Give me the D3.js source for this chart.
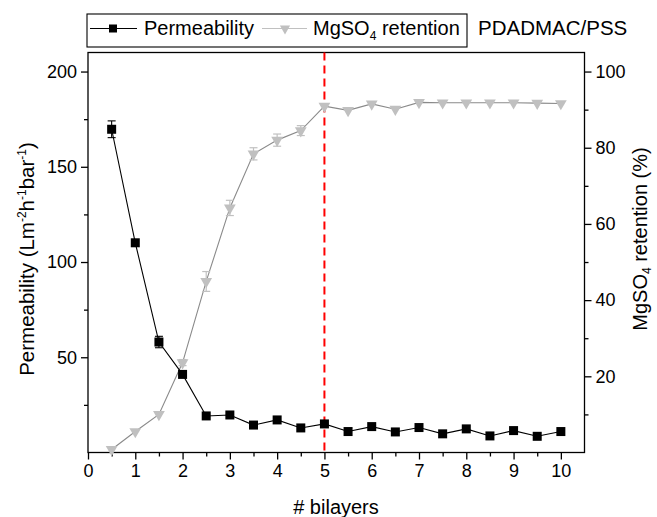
<!DOCTYPE html>
<html><head><meta charset="utf-8">
<script src="https://cdn.jsdelivr.net/npm/d3@7"></script>
<style>body{margin:0;background:#fff}svg{display:block}text{font-family:"Liberation Sans",Arial,sans-serif;fill:#000}</style>
</head><body><svg id="c" width="657" height="517"></svg>
<script>
const bilayers = [0.5,1,1.5,2,2.5,3,3.5,4,4.5,5,5.5,6,6.5,7,7.5,8,8.5,9,9.5,10];
const permeability = [169.7,110.1,58,41,19.2,19.7,14.4,17.1,12.9,15,11,13.6,10.8,13.1,9.8,12.4,8.7,11.5,8.5,11];
const permErr = [4.4,0.8,3,1,0.5,0.5,0.5,0.5,0.5,0.5,0.3,0.3,0.3,0.3,0.3,0.3,0.3,0.3,0.3,0.3];
const retention = [0.8,5.5,10,23.6,44.9,64.2,78.4,82,84.5,90.9,89.8,91.5,90.1,91.9,91.8,91.8,91.8,91.8,91.7,91.6];
const retErr = [0.3,0.3,0.3,0.8,2.6,2,1.6,1.6,1.3,0.5,0.4,0.4,0.4,0.3,0.3,0.3,0.3,0.3,0.3,0.3];
const xTicks = [0,1,2,3,4,5,6,7,8,9,10];
const yLeftTicks = [50,100,150,200];
const yRightTicks = [20,40,60,80,100];
const markerLine = 5;

const svg = d3.select("#c");
const L=88,R=584.5,T=52.5,B=452.5;
const x = d3.scaleLinear().domain([0,10.5]).range([L,R]);
const yL = d3.scaleLinear().domain([0,210]).range([B,T]);
const yR = d3.scaleLinear().domain([0,105]).range([B,T]);

svg.append("rect").attr("x",L).attr("y",T).attr("width",R-L).attr("height",B-T).attr("fill","none").attr("stroke","#000").attr("stroke-width",1.3);

const fmt = d=>d;
const xa = svg.append("g").attr("transform",`translate(0,${B})`)
  .call(d3.axisBottom(x).tickValues(xTicks).tickSize(7).tickPadding(5).tickFormat(fmt));
const xm = svg.append("g").attr("transform",`translate(0,${B})`)
  .call(d3.axisBottom(x).tickValues(d3.range(0.5,10.5,1)).tickSize(4).tickFormat(""));
const yla = svg.append("g").attr("transform",`translate(${L},0)`)
  .call(d3.axisLeft(yL).tickValues(yLeftTicks).tickSize(7).tickPadding(4).tickFormat(fmt));
const ylm = svg.append("g").attr("transform",`translate(${L},0)`)
  .call(d3.axisLeft(yL).tickValues([25,75,125,175]).tickSize(4).tickFormat(""));
const yra = svg.append("g").attr("transform",`translate(${R},0)`)
  .call(d3.axisRight(yR).tickValues(yRightTicks).tickSize(7).tickPadding(4).tickFormat(fmt));
const yrm = svg.append("g").attr("transform",`translate(${R},0)`)
  .call(d3.axisRight(yR).tickValues([10,30,50,70,90]).tickSize(4).tickFormat(""));
[xa,xm,yla,ylm,yra,yrm].forEach(g=>{
  g.select(".domain").remove();
  g.selectAll("line").attr("stroke","#000").attr("stroke-width",1.3);
  g.selectAll("text").attr("font-size",18).attr("font-family",'"Liberation Sans",Arial,sans-serif').attr("fill","#000");
});

svg.append("line").attr("x1",x(markerLine)).attr("x2",x(markerLine)).attr("y1",T).attr("y2",B)
  .attr("stroke","#ff0000").attr("stroke-width",2).attr("stroke-dasharray","8,5");

const retColor="#c0c0c0", retLine="#8a8a8a";
svg.append("path").datum(bilayers.map((b,i)=>[b,retention[i]]))
  .attr("d",d3.line().x(d=>x(d[0])).y(d=>yR(d[1]))).attr("fill","none").attr("stroke",retLine).attr("stroke-width",1.1);
const rg = svg.append("g");
bilayers.forEach((b,i)=>{
  const cx=x(b), y1=yR(retention[i]+retErr[i]), y2=yR(retention[i]-retErr[i]);
  if(retErr[i]>0.6){
    rg.append("line").attr("x1",cx).attr("x2",cx).attr("y1",y1).attr("y2",y2).attr("stroke",retColor).attr("stroke-width",1.2);
    [y1,y2].forEach(yy=>rg.append("line").attr("x1",cx-4).attr("x2",cx+4).attr("y1",yy).attr("y2",yy).attr("stroke",retColor).attr("stroke-width",1.2));
  }
});
rg.selectAll("path.tri").data(bilayers).join("path").attr("class","tri")
  .attr("d",d3.symbol(d3.symbolTriangle,60)()).attr("fill",retColor)
  .attr("transform",(d,i)=>`translate(${x(d)},${yR(retention[i])}) rotate(180)`);

svg.append("path").datum(bilayers.map((b,i)=>[b,permeability[i]]))
  .attr("d",d3.line().x(d=>x(d[0])).y(d=>yL(d[1]))).attr("fill","none").attr("stroke","#000").attr("stroke-width",1.1);
const pg = svg.append("g");
bilayers.forEach((b,i)=>{
  const cx=x(b), y1=yL(permeability[i]+permErr[i]), y2=yL(permeability[i]-permErr[i]);
  if(permErr[i]>2){
    pg.append("line").attr("x1",cx).attr("x2",cx).attr("y1",y1).attr("y2",y2).attr("stroke","#000").attr("stroke-width",1.1);
    [y1,y2].forEach(yy=>pg.append("line").attr("x1",cx-4).attr("x2",cx+4).attr("y1",yy).attr("y2",yy).attr("stroke","#000").attr("stroke-width",1.1));
  }
});
pg.selectAll("rect").data(bilayers).join("rect")
  .attr("x",d=>x(d)-4.5).attr("y",(d,i)=>yL(permeability[i])-4.5).attr("width",9).attr("height",9).attr("fill","#000");

// axis titles
svg.append("text").attr("x",336).attr("y",514).attr("text-anchor","middle").attr("font-size",20).text("# bilayers");
const lt = svg.append("text").attr("transform","translate(34,259) rotate(-90)").attr("text-anchor","middle").attr("font-size",20.5);
lt.append("tspan").text("Permeability (Lm");
lt.append("tspan").attr("font-size",12).attr("dy",-8).text("-2");
lt.append("tspan").attr("dy",8).text("h");
lt.append("tspan").attr("font-size",12).attr("dy",-8).text("-1");
lt.append("tspan").attr("dy",8).text("bar");
lt.append("tspan").attr("font-size",12).attr("dy",-8).text("-1");
lt.append("tspan").attr("dy",8).text(")");
const rt = svg.append("text").attr("transform","translate(647,239) rotate(-90)").attr("text-anchor","middle").attr("font-size",20);
rt.append("tspan").text("MgSO");
rt.append("tspan").attr("font-size",12).attr("dy",4).text("4");
rt.append("tspan").attr("dy",-4).text(" retention (%)");

// legend
svg.append("rect").attr("x",87).attr("y",14).attr("width",380).attr("height",33).attr("fill","#fff").attr("stroke","#000").attr("stroke-width",1.1);
svg.append("line").attr("x1",90).attr("x2",137).attr("y1",28.5).attr("y2",28.5).attr("stroke","#000").attr("stroke-width",1.1);
svg.append("rect").attr("x",109).attr("y",24.5).attr("width",8).attr("height",8).attr("fill","#000");
svg.append("text").attr("x",144).attr("y",35).attr("font-size",20).text("Permeability");
svg.append("line").attr("x1",262).attr("x2",307).attr("y1",28.5).attr("y2",28.5).attr("stroke",retColor).attr("stroke-width",1.1);
svg.append("path").attr("d",d3.symbol(d3.symbolTriangle,45)()).attr("fill",retColor).attr("transform","translate(285,28.5) rotate(180)");
const lg = svg.append("text").attr("x",313).attr("y",35).attr("font-size",20);
lg.append("tspan").text("MgSO");
lg.append("tspan").attr("font-size",12).attr("dy",5).text("4");
lg.append("tspan").attr("dy",-5).text(" retention");
svg.append("text").attr("x",478).attr("y",35).attr("font-size",20.5).text("PDADMAC/PSS");
</script></body></html>
